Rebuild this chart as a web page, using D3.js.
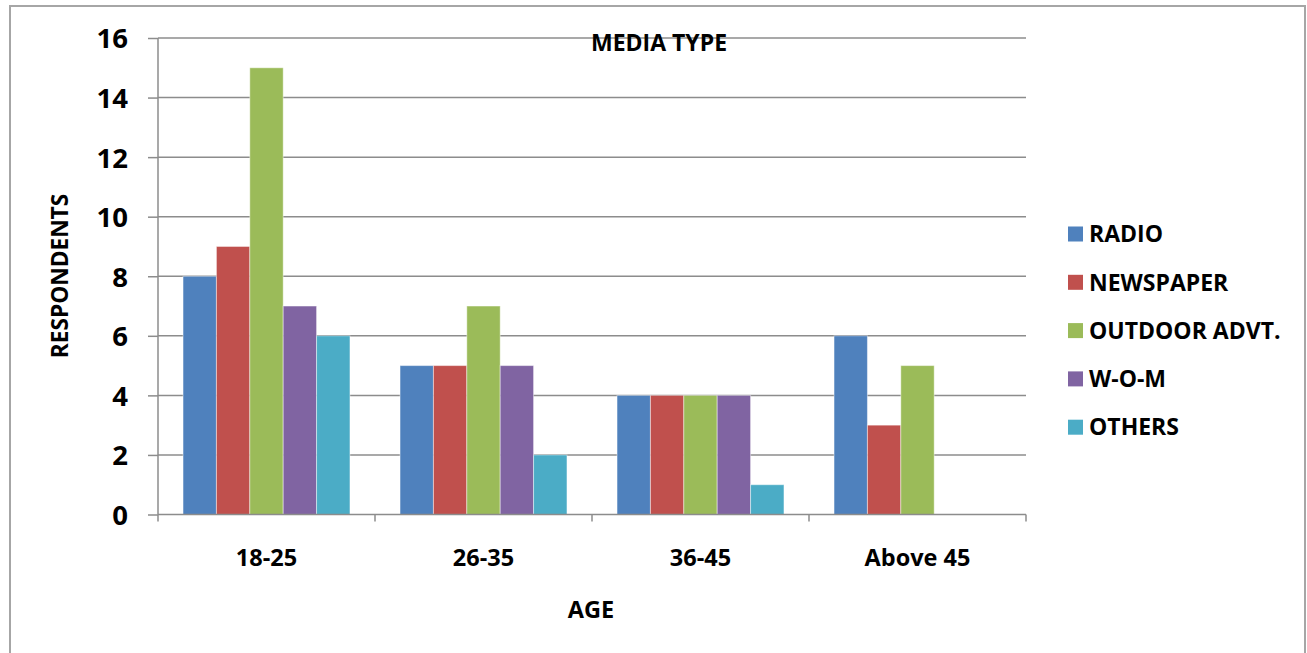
<!DOCTYPE html>
<html>
<head>
<meta charset="utf-8">
<script src="https://cdn.jsdelivr.net/npm/d3@7/dist/d3.min.js"></script>
<style>
  html, body { margin: 0; padding: 0; background: #fff; }
  svg text { font-family: "Open Sans", "DejaVu Sans", sans-serif; font-weight: 700; fill: #000; }
</style>
</head>
<body>
<svg id="chart" width="1307" height="653"></svg>
<script>
// Age groups along the x axis
const ageGroups = ["18-25", "26-35", "36-45", "Above 45"];
// Media types (one bar per type in each age group)
const mediaTypes = ["RADIO", "NEWSPAPER", "OUTDOOR ADVT.", "W-O-M", "OTHERS"];
// Respondents per media type, one value per age group
const radio     = [8, 5, 4, 6];
const newspaper = [9, 5, 4, 3];
const outdoor   = [15, 7, 4, 5];
const wom       = [7, 5, 4, 0];
const others    = [6, 2, 1, 0];
// Y axis ticks
const yTicks = [0, 2, 4, 6, 8, 10, 12, 14, 16];

const seriesValues = [radio, newspaper, outdoor, wom, others];
const colors = ["#4F81BD", "#C0504D", "#9BBB59", "#8064A2", "#4BACC6"];

const svg = d3.select("#chart");

// Outer frame of the chart
svg.append("path")
  .attr("d", "M10,653 L10,6 L1305,6 L1305,653")
  .attr("fill", "none")
  .attr("stroke", "#A6A6A6")
  .attr("stroke-width", 2);

const plot = { left: 158, right: 1026, top: 38, bottom: 514.5 };

const x0 = d3.scaleBand().domain(ageGroups).range([plot.left, plot.right]).padding(0);
const x1 = d3.scaleBand().domain(mediaTypes).range([0, x0.bandwidth()])
  .paddingInner(0).paddingOuter(0.75);
const y = d3.scaleLinear().domain([0, 16]).range([plot.bottom, plot.top]);

// Horizontal gridlines
svg.append("g")
  .selectAll("line")
  .data(yTicks.filter(d => d > 0))
  .join("line")
  .attr("x1", plot.left).attr("x2", plot.right)
  .attr("y1", d => y(d)).attr("y2", d => y(d))
  .attr("stroke", "#8C8C8C").attr("stroke-width", 1.5);

// Bars
const groups = svg.append("g")
  .selectAll("g")
  .data(ageGroups)
  .join("g")
  .attr("transform", d => `translate(${x0(d)},0)`);

groups.selectAll("rect")
  .data((g, gi) => mediaTypes.map((m, mi) => ({ m, mi, v: seriesValues[mi][gi] })).filter(d => d.v > 0))
  .join("rect")
  .attr("x", d => x1(d.m))
  .attr("width", x1.bandwidth())
  .attr("y", d => y(d.v))
  .attr("height", d => y(0) - y(d.v))
  .attr("fill", d => colors[d.mi])
  .attr("stroke", "rgba(255,255,255,0.45)")
  .attr("stroke-width", 1);

// Y axis
const yAxis = svg.append("g")
  .attr("transform", `translate(${plot.left},0)`)
  .call(d3.axisLeft(y).tickValues(yTicks).tickSize(10).tickPadding(20).tickFormat(d3.format("d")));
yAxis.select(".domain").attr("stroke", "#8C8C8C").attr("stroke-width", 1.5).attr("d", `M0,${plot.top}V${plot.bottom}`);
yAxis.selectAll(".tick line").attr("stroke", "#8C8C8C").attr("stroke-width", 1.5);
yAxis.selectAll(".tick text")
  .attr("font-size", 27.5)
  .attr("font-family", "'Open Sans', sans-serif")
  .attr("font-weight", 700)
  .attr("fill", "#000")
  .attr("dy", "0.36em");

// X axis baseline and category boundary ticks
const xAxis = svg.append("g")
  .attr("transform", `translate(0,${plot.bottom})`);
xAxis.append("line")
  .attr("x1", plot.left).attr("x2", plot.right)
  .attr("stroke", "#8C8C8C").attr("stroke-width", 1.5);
const boundaries = ageGroups.map(g => x0(g)).concat([x0(ageGroups[ageGroups.length - 1]) + x0.bandwidth()]);
xAxis.selectAll("line.b")
  .data(boundaries)
  .join("line")
  .attr("class", "b")
  .attr("x1", d => d).attr("x2", d => d)
  .attr("y1", 0).attr("y2", 7)
  .attr("stroke", "#8C8C8C").attr("stroke-width", 1.5);
xAxis.selectAll("text")
  .data(ageGroups)
  .join("text")
  .attr("x", d => x0(d) + x0.bandwidth() / 2)
  .attr("y", 566 - plot.bottom)
  .attr("text-anchor", "middle")
  .attr("font-size", 23.5)
  .text(d => d);

// Title
svg.append("text")
  .attr("x", 659).attr("y", 51)
  .attr("text-anchor", "middle")
  .attr("font-size", 23)
  .text("MEDIA TYPE");

// Axis titles
svg.append("text")
  .attr("x", 591).attr("y", 618)
  .attr("text-anchor", "middle")
  .attr("font-size", 23.5)
  .text("AGE");

svg.append("text")
  .attr("transform", "translate(68,276) rotate(-90)")
  .attr("text-anchor", "middle")
  .attr("font-size", 22.7)
  .text("RESPONDENTS");

// Legend
const legend = svg.append("g");
const legendRows = legend.selectAll("g")
  .data(mediaTypes)
  .join("g")
  .attr("transform", (d, i) => `translate(1068,${234 + i * 48.3})`);
legendRows.append("rect")
  .attr("x", 0).attr("y", -7.5)
  .attr("width", 15).attr("height", 15)
  .attr("fill", (d, i) => colors[i]);
legendRows.append("text")
  .attr("x", 21).attr("y", 0)
  .attr("dy", "0.36em")
  .attr("font-size", 23)
  .text(d => d);
</script>
</body>
</html>
